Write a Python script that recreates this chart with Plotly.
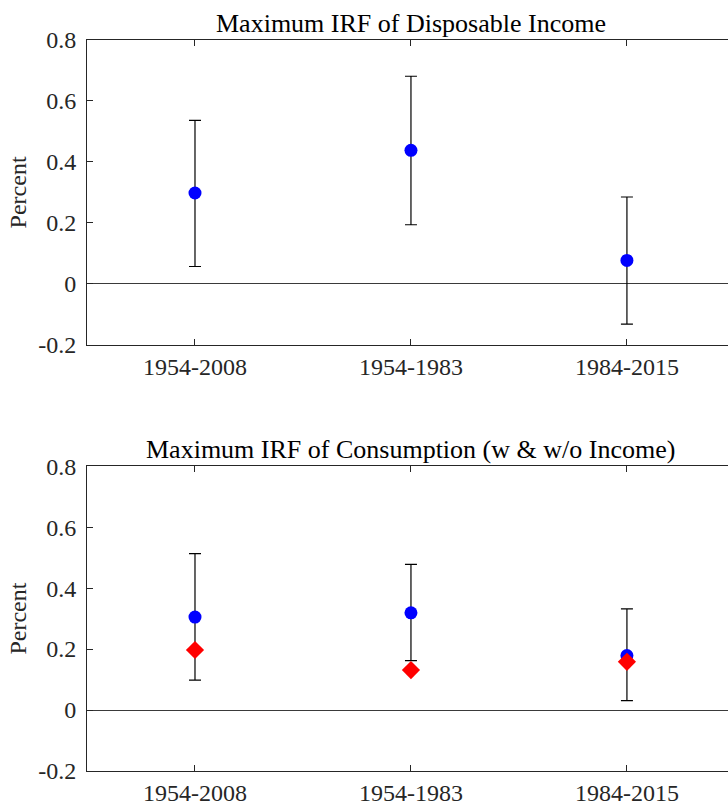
import plotly.graph_objects as go

categories = ["1954-2008", "1954-1983", "1984-2015"]
cat_pos = [1, 2, 3]

income_point = [0.298, 0.438, 0.077]
income_upper = [0.536, 0.681, 0.285]
income_lower = [0.057, 0.194, -0.132]

cons_point = [0.305, 0.319, 0.179]
cons_upper = [0.513, 0.478, 0.332]
cons_lower = [0.098, 0.162, 0.031]
cons_no_income = [0.197, 0.131, 0.158]

yticks = [-0.2, 0, 0.2, 0.4, 0.6, 0.8]
yticktext = ["-0.2", "0", "0.2", "0.4", "0.6", "0.8"]

titles = ["Maximum IRF of Disposable Income",
          "Maximum IRF of Consumption (w & w/o Income)"]

FONT = "Liberation Serif"
AX = "#262626"

fig = go.Figure()

def err(pt, up, lo):
    return dict(type="data", symmetric=False,
                array=[u - p for u, p in zip(up, pt)],
                arrayminus=[p - l for p, l in zip(pt, lo)],
                color="black", thickness=1.2, width=6)

fig.add_trace(go.Scatter(x=cat_pos, y=income_point, mode="markers",
                         marker=dict(color="blue", size=13, symbol="circle"),
                         error_y=err(income_point, income_upper, income_lower),
                         xaxis="x", yaxis="y", showlegend=False))

fig.add_trace(go.Scatter(x=cat_pos, y=cons_point, mode="markers",
                         marker=dict(color="blue", size=13, symbol="circle"),
                         error_y=err(cons_point, cons_upper, cons_lower),
                         xaxis="x2", yaxis="y2", showlegend=False))
fig.add_trace(go.Scatter(x=cat_pos, y=cons_no_income, mode="markers",
                         marker=dict(color="red", size=14, symbol="diamond"),
                         xaxis="x2", yaxis="y2", showlegend=False))

xr = [0.5, 3.468]
top_dom = [0.5830, 1.0]
bot_dom = [0.0, 0.4170]

xcommon = dict(range=xr, tickvals=cat_pos, ticktext=categories,
               ticks="inside", ticklen=6, tickcolor=AX, tickwidth=1,
               showline=True, linecolor=AX, linewidth=1, mirror="ticks",
               showgrid=False, zeroline=False, automargin=False,
               tickfont=dict(family=FONT, size=24, color=AX),
               ticklabelstandoff=0, fixedrange=True)
ycommon = dict(range=[-0.2, 0.8], tickvals=yticks, ticktext=yticktext,
               ticks="inside", ticklen=6, tickcolor=AX, tickwidth=1,
               showline=True, linecolor=AX, linewidth=1,
               showgrid=False, zeroline=True, zerolinecolor="#3a3a3a",
               zerolinewidth=1, automargin=False,
               tickfont=dict(family=FONT, size=24, color=AX),
               ticklabelstandoff=5,
               title=dict(text="Percent", font=dict(family=FONT, size=24, color=AX),
                          standoff=4))

fig.update_layout(
    width=728, height=807,
    margin=dict(l=87, r=0, t=40, b=36),
    paper_bgcolor="white", plot_bgcolor="white",
    xaxis=dict(domain=[0, 1], anchor="y", **xcommon),
    yaxis=dict(domain=top_dom, anchor="x", **ycommon),
    xaxis2=dict(domain=[0, 1], anchor="y2", **xcommon),
    yaxis2=dict(domain=bot_dom, anchor="x2", **ycommon),
)

for i, (t, dom) in enumerate(zip(titles, [top_dom, bot_dom])):
    fig.add_annotation(text=t, xref="x" if i == 0 else "x2", x=2,
                       yref="paper", y=dom[1], yanchor="bottom", yshift=0,
                       showarrow=False,
                       font=dict(family=FONT, size=26, color="black"))

fig.write_html("out.html")
